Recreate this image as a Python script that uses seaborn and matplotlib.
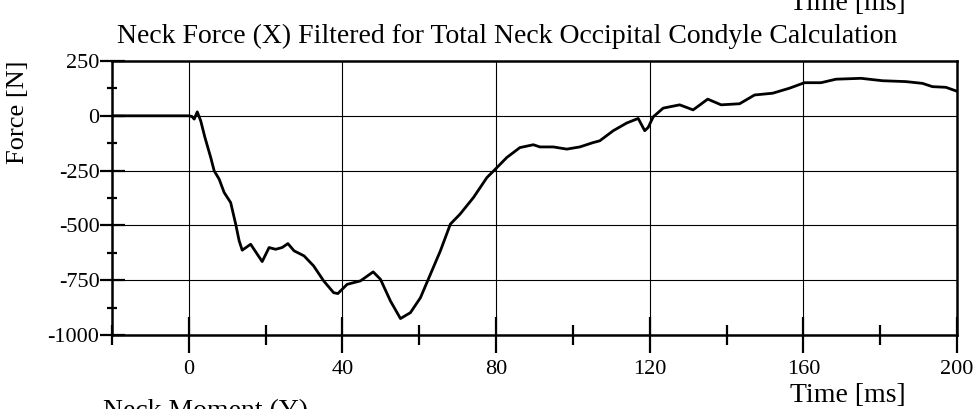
import numpy as np
import pandas as pd
import matplotlib
matplotlib.use("Agg")
import matplotlib.pyplot as plt
from matplotlib.ticker import FixedLocator
import seaborn as sns

# Neck force (X) time history, filtered
time_ms = [-20, 0, 0.8, 1.4, 2.2, 3.1, 4.2, 5.7, 6.6, 7.9, 9.2, 10.9, 12.2, 13.1,
           13.9, 16.1, 17.8, 19.1, 20.9, 22.6, 24.3, 25.8, 27.4, 30.0, 32.5, 35.1,
           37.7, 38.8, 41.2, 44.7, 48.0, 49.9, 52.5, 55.1, 57.7, 60.3, 62.9, 65.5,
           68.1, 70.6, 74.1, 77.6, 80.0, 82.8, 86.2, 89.7, 91.4, 94.9, 98.4, 101.8,
           105.3, 107.0, 110.5, 114.0, 117.0, 118.7, 119.6, 120.9, 123.5, 127.8,
           131.3, 135.1, 138.6, 143.4, 147.3, 152.0, 156.4, 160.3, 164.6, 168.5,
           175.0, 180.6, 186.7, 191.0, 193.6, 197.1, 200.0]
force_n = [0, 0, -3, -15, 18, -23, -99, -190, -251, -289, -350, -396, -494, -570,
           -613, -586, -631, -665, -601, -609, -601, -583, -616, -639, -685, -753,
           -807, -811, -769, -753, -712, -746, -845, -925, -898, -830, -723, -616,
           -494, -449, -373, -282, -240, -190, -145, -132, -142, -142, -152, -142,
           -122, -114, -68, -33, -12, -68, -53, -5, 35, 50,
           27, 76, 50, 55, 95, 103, 126, 151, 151, 167,
           171, 160, 156, 148, 133, 130, 112]

x_ticks = [0, 40, 80, 120, 160, 200]
x_minor = [-20, 20, 60, 100, 140, 180]
y_ticks = [250, 0, -250, -500, -750, -1000]
y_minor = [125, -125, -375, -625, -875]

df = pd.DataFrame({"Time [ms]": time_ms, "Force [N]": force_n})

sns.set_theme(style="white")
plt.rcParams["font.family"] = ["Liberation Serif", "DejaVu Serif"]
plt.rcParams["text.color"] = "black"

fig = plt.figure(figsize=(9.77, 4.09), dpi=100)
ax = fig.add_axes([112 / 977, 1 - 335 / 409, 845 / 977, 274 / 409])

sns.lineplot(data=df, x="Time [ms]", y="Force [N]", ax=ax, color="black",
             linewidth=2.0, zorder=3)

ax.set_xlim(-20, 200)
ax.set_ylim(-1000, 250)

ax.xaxis.set_major_locator(FixedLocator(x_ticks))
ax.xaxis.set_minor_locator(FixedLocator(x_minor))
ax.yaxis.set_major_locator(FixedLocator(y_ticks))
ax.yaxis.set_minor_locator(FixedLocator(y_minor))

ax.set_xticklabels([str(v) for v in x_ticks])
ax.set_yticklabels([str(v) for v in y_ticks])

ax.tick_params(bottom=True, left=True, top=False, right=False, which="both")
ax.tick_params(axis="x", which="major", direction="inout", length=26, width=1.6,
               color="black", labelsize=16, pad=5, labelcolor="black")
ax.tick_params(axis="x", which="minor", direction="inout", length=15, width=1.6,
               color="black")
ax.tick_params(axis="y", which="major", direction="inout", length=18, width=1.6,
               color="black", labelsize=16, pad=0, labelcolor="black")
ax.tick_params(axis="y", which="minor", direction="inout", length=7, width=1.6,
               color="black")

# grid lines at major ticks inside the frame
for v in [0, 40, 80, 120, 160]:
    ax.axvline(v, color="black", linewidth=0.8, zorder=1)
for v in [0, -250, -500, -750]:
    ax.axhline(v, color="black", linewidth=0.8, zorder=1)

for s in ax.spines.values():
    s.set_visible(True)
    s.set_color("black")
    s.set_linewidth(1.8)

ax.set_xlabel("")
ax.set_ylabel("")

fig.text(18 / 977, 1 - 112 / 409, "Force [N]", rotation=90, ha="center",
         va="center", fontsize=19)
fig.text(848 / 977, 1 - 402 / 409, "Time [ms]", ha="center", va="baseline",
         fontsize=20)
fig.text(848 / 977, 1 - 10 / 409, "Time [ms]", ha="center", va="baseline",
         fontsize=20)
fig.text(507 / 977, 1 - 43 / 409,
         "Neck Force (X) Filtered for Total Neck Occipital Condyle Calculation",
         ha="center", va="baseline", fontsize=20)
fig.text(103 / 977, 1 - 418 / 409, "Neck Moment (Y)", ha="left", va="baseline",
         fontsize=20)

fig.savefig("out.png", dpi=100, facecolor="white")
